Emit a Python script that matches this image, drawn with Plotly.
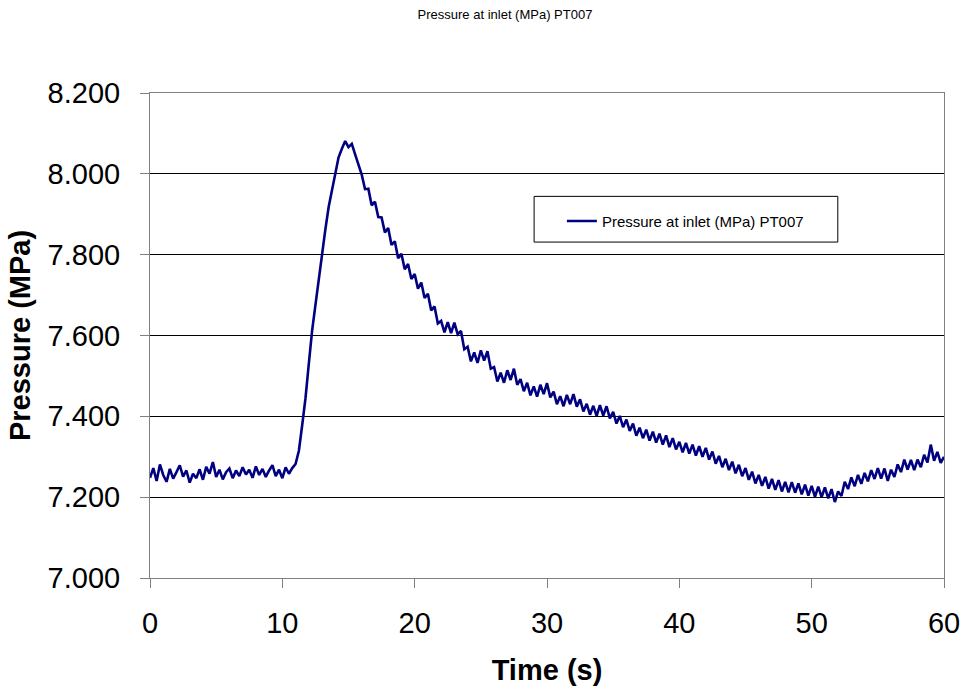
import plotly.graph_objects as go

title_text = "Pressure at inlet (MPa) PT007"
series_name = "Pressure at inlet (MPa) PT007"

# sampling grid (s)
time_s = [i * 0.25 for i in range(241)]

pressure_mpa = [
    # 0.00 - 15.75 s
    7.248, 7.272, 7.240, 7.281, 7.255, 7.238, 7.270, 7.246, 7.262, 7.279,
    7.251, 7.266, 7.236, 7.258, 7.247, 7.269, 7.243, 7.275, 7.258, 7.287,
    7.250, 7.268, 7.244, 7.262, 7.271, 7.247, 7.266, 7.252, 7.274, 7.256,
    7.268, 7.248, 7.276, 7.255, 7.270, 7.250, 7.266, 7.279, 7.252, 7.268,
    7.247, 7.274, 7.258, 7.272, 7.282, 7.315, 7.378, 7.445, 7.530, 7.612,
    7.675, 7.742, 7.800, 7.862, 7.918, 7.962, 8.005, 8.041, 8.062, 8.081,
    8.066, 8.074, 8.048, 8.022,
    # 16.00 - 60.00 s
    7.998, 7.962, 7.963, 7.922, 7.931, 7.893, 7.892, 7.855, 7.866, 7.824,
    7.833, 7.791, 7.802, 7.764, 7.777, 7.740, 7.752, 7.716, 7.731, 7.693,
    7.703, 7.662, 7.672, 7.630, 7.636, 7.608, 7.633, 7.606, 7.632, 7.603,
    7.611, 7.566, 7.572, 7.536, 7.558, 7.532, 7.563, 7.538, 7.561, 7.518,
    7.522, 7.486, 7.508, 7.483, 7.514, 7.490, 7.518, 7.478, 7.492, 7.462,
    7.483, 7.452, 7.474, 7.449, 7.478, 7.455, 7.482, 7.447, 7.461, 7.430,
    7.450, 7.425, 7.453, 7.430, 7.455, 7.424, 7.442, 7.412, 7.431, 7.404,
    7.426, 7.401, 7.428, 7.402, 7.425, 7.395, 7.411, 7.382, 7.401, 7.373,
    7.392, 7.364, 7.382, 7.352, 7.372, 7.346, 7.367, 7.340, 7.362, 7.335,
    7.357, 7.330, 7.353, 7.324, 7.346, 7.318, 7.337, 7.311, 7.334, 7.308,
    7.330, 7.303, 7.326, 7.300, 7.322, 7.293, 7.313, 7.283, 7.302, 7.274,
    7.295, 7.267, 7.288, 7.259, 7.280, 7.252, 7.272, 7.243, 7.263, 7.234,
    7.255, 7.228, 7.250, 7.221, 7.245, 7.218, 7.242, 7.214, 7.238, 7.212,
    7.237, 7.211, 7.234, 7.207, 7.231, 7.204, 7.228, 7.201, 7.226, 7.200,
    7.224, 7.197, 7.220, 7.188, 7.214, 7.203, 7.238, 7.220, 7.249, 7.227,
    7.255, 7.233, 7.260, 7.239, 7.267, 7.245, 7.272, 7.246, 7.271, 7.240,
    7.268, 7.250, 7.281, 7.262, 7.293, 7.268, 7.292, 7.267, 7.293, 7.274,
    7.305, 7.286, 7.330, 7.290, 7.312, 7.285, 7.300,
]
assert len(pressure_mpa) == len(time_s)

y_ticks = [7.0, 7.2, 7.4, 7.6, 7.8, 8.0, 8.2]
y_tick_labels = ["7.000", "7.200", "7.400", "7.600", "7.800", "8.000", "8.200"]
x_ticks = [0, 10, 20, 30, 40, 50, 60]

FONT = "Liberation Sans, Arial, sans-serif"

fig = go.Figure()
fig.add_trace(go.Scatter(
    x=time_s, y=pressure_mpa, mode="lines", name=series_name,
    line=dict(color="#000080", width=2.6),
))

# legend frame (plot-area fractions)
fig.add_shape(type="rect", xref="paper", yref="paper",
              x0=(537 - 150) / 800, x1=(843 - 150) / 800,
              y0=(581 - 243) / 488, y1=(581 - 197) / 488,
              line=dict(color="black", width=1), fillcolor="white", layer="below")

fig.update_layout(
    width=972, height=692,
    margin=dict(l=150, r=22, t=93, b=111),
    paper_bgcolor="white", plot_bgcolor="white",
    title=dict(text=title_text, x=505 / 972, xanchor="center",
               y=1 - 14 / 692, yanchor="middle",
               font=dict(family=FONT, size=13, color="black")),
    showlegend=True,
    legend=dict(x=(565 - 150) / 800, y=(581 - 222) / 488, xanchor="left", yanchor="middle",
                bgcolor="rgba(0,0,0,0)", borderwidth=0,
                font=dict(family=FONT, size=15, color="black"), itemwidth=30),
    font=dict(family=FONT, color="black"),
)

fig.update_xaxes(range=[0, 60], tickvals=x_ticks, ticks="outside", ticklen=9,
                 tickcolor="#808080", showgrid=False, zeroline=False,
                 showline=True, linecolor="#808080", linewidth=1, mirror=True,
                 tickfont=dict(size=29, family=FONT), ticklabelstandoff=10,
                 title=dict(text="<b>Time (s)</b>", font=dict(size=29, family=FONT), standoff=21))
fig.update_yaxes(range=[7.0, 8.2], tickvals=y_ticks, ticktext=y_tick_labels,
                 ticks="outside", ticklen=9, tickcolor="#808080",
                 showgrid=True, gridcolor="black", gridwidth=1, zeroline=False,
                 showline=True, linecolor="#808080", linewidth=1, mirror=True,
                 tickfont=dict(size=29, family=FONT), ticklabelstandoff=14,
                 title=dict(text="<b>Pressure (MPa)</b>", font=dict(size=29, family=FONT), standoff=8))

fig.write_html(
    "out.html",
    config={"displayModeBar": False},
    post_script="document.body.style.margin='0';document.body.style.overflow='hidden';",
)
